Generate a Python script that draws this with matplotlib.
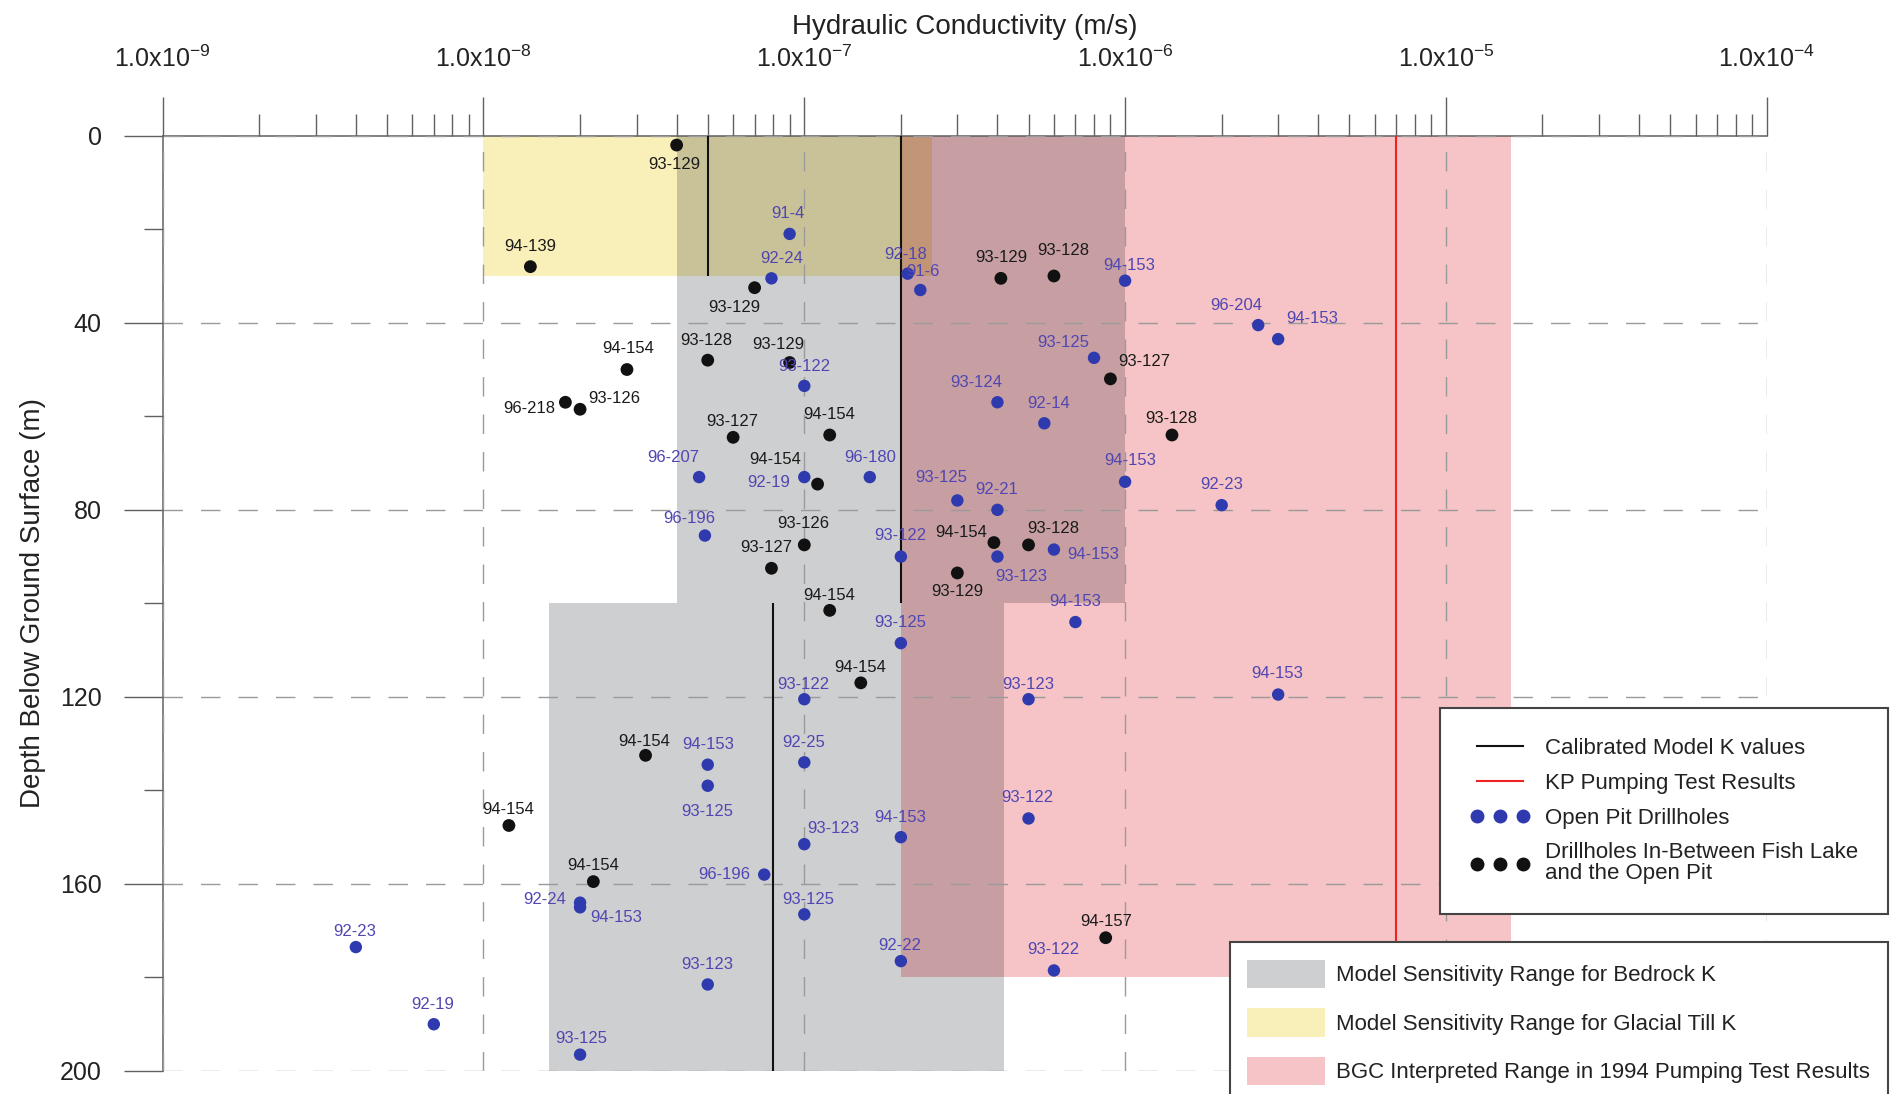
"""
Hydraulic conductivity vs depth - sensitivity ranges and drillhole K values
"""

import numpy as np
import matplotlib
matplotlib.use('Agg')
import matplotlib.pyplot as plt
from matplotlib.colors import to_rgb
from matplotlib.lines import Line2D
from matplotlib.patches import Patch
from matplotlib.ticker import FixedLocator, FuncFormatter, NullFormatter

plt.rcParams['font.family'] = ['Liberation Sans', 'DejaVu Sans']

# Drillholes In-Between Fish Lake and the Open Pit (black)
BLACK_NAMES = ['93-129', '94-139', '93-129', '93-128', '94-154', '93-129', '96-218',
               '93-126', '93-127', '94-154', '94-154', '93-126', '93-127', '94-154',
               '94-154', '94-154', '93-128', '93-129', '93-127', '93-128', '93-129',
               '93-128', '94-154', '94-154', '94-154', '94-157']
BLACK_K = [4.0e-8, 1.4e-8, 7.0e-8, 5.0e-8, 2.8e-8, 9.0e-8, 1.8e-8,
           2.0e-8, 6.0e-8, 1.2e-7, 1.1e-7, 1.0e-7, 7.9e-8, 1.2e-7,
           1.5e-7, 3.9e-7, 5.0e-7, 3.0e-7, 9.0e-7, 1.4e-6, 4.1e-7,
           6.0e-7, 3.2e-8, 1.2e-8, 2.2e-8, 8.7e-7]
BLACK_DEPTH = [2, 28, 32.5, 48, 50, 48.5, 57,
               58.5, 64.5, 64, 74.5, 87.5, 92.5, 101.5,
               117, 87, 87.5, 93.5, 52, 64, 30.5,
               30, 132.5, 147.5, 159.5, 171.5]

# Open Pit Drillholes (blue)
BLUE_NAMES = ['91-4', '92-24', '92-18', '91-6', '94-153', '96-204', '94-153', '93-125',
              '93-122', '93-124', '92-14', '96-207', '92-19', '96-180', '96-196', '93-122',
              '93-125', '92-21', '93-123', '94-153', '94-153', '92-23', '94-153', '93-125',
              '93-122', '93-123', '94-153', '94-153', '93-125', '92-25', '93-123', '94-153',
              '93-122', '96-196', '92-24', '94-153', '93-125', '92-22', '93-122', '93-123',
              '93-125', '92-23', '92-19']
BLUE_K = [9.0e-8, 7.9e-8, 2.1e-7, 2.3e-7, 1.0e-6, 2.6e-6, 3.0e-6, 8.0e-7,
          1.0e-7, 4.0e-7, 5.6e-7, 4.7e-8, 1.0e-7, 1.6e-7, 4.9e-8, 2.0e-7,
          3.0e-7, 4.0e-7, 4.0e-7, 6.0e-7, 1.0e-6, 2.0e-6, 7.0e-7, 2.0e-7,
          1.0e-7, 5.0e-7, 3.0e-6, 5.0e-8, 5.0e-8, 1.0e-7, 1.0e-7, 2.0e-7,
          5.0e-7, 7.5e-8, 2.0e-8, 2.0e-8, 1.0e-7, 2.0e-7, 6.0e-7, 5.0e-8,
          2.0e-8, 4.0e-9, 7.0e-9]
BLUE_DEPTH = [21, 30.5, 29.5, 33, 31, 40.5, 43.5, 47.5,
              53.5, 57, 61.5, 73, 73, 73, 85.5, 90,
              78, 80, 90, 88.5, 74, 79, 104, 108.5,
              120.5, 120.5, 119.5, 134.5, 139, 134, 151.5, 150,
              146, 158, 164, 165, 166.5, 176.5, 178.5, 181.5,
              196.5, 173.5, 190]

# label centre offsets from the dot, pixels (x right, y down)
BLACK_OFFSETS = [(-2, 19), (0, -20), (-20, 20), (-1, -20), (1, -21), (-11, -18), (-36, 6),
                 (34, -11), (-1, -16), (-1, -20), (-42, -25), (-1, -21), (-5, -21), (-1, -15),
                 (-1, -15), (-33, -10), (25, -16), (0, 19), (34, -17), (-1, -16), (0, -21),
                 (9, -25), (-1, -14), (-1, -16), (0, -16), (0, -16)]
BLUE_OFFSETS = [(-2, -20), (10, -20), (-2, -19), (3, -19), (4, -15), (-22, -20), (34, -21), (-31, -15),
                (0, -19), (-21, -20), (4, -20), (-26, -20), (-36, 5), (0, -20), (-16, -17), (-1, -21),
                (-16, -23), (-1, -20), (24, 20), (39, 5), (5, -21), (0, -21), (0, -21), (-1, -21),
                (-1, -15), (0, -15), (-1, -21), (0, -20), (0, 26), (-1, -20), (29, -16), (-1, -20),
                (-1, -21), (-40, 0), (-35, -3), (36, 10), (4, -15), (-1, -16), (-1, -21), (0, -20),
                (1, -16), (-1, -16), (-1, -20)]

# shaded K ranges (bedrock upper, bedrock lower, glacial till, BGC 1994)
RANGE_K = [(4.0e-8, 1.0e-6), (1.6e-8, 4.2e-7), (1.0e-8, 2.5e-7), (2.0e-7, 1.6e-5)]
RANGE_DEPTH = [(0, 100), (100, 200), (0, 30), (0, 180)]

# calibrated model K values
CAL_K = [5e-8, 2e-7, 8e-8]
CAL_DEPTH = [(0, 30), (0, 100), (100, 200)]

# KP pumping test result
KP_K = [7e-6]
KP_DEPTH = [(0, 180)]

DECADES = [1e-9, 1e-8, 1e-7, 1e-6, 1e-5, 1e-4]

GRAY = '#cecfd1'
YELLOW = '#f9efb9'
PINK = '#f6c4c6'
RANGE_COLORS = [GRAY, GRAY, YELLOW, PINK]
BLUE = '#2f3aae'
BLUE_TXT = '#5046b2'
AXIS_C = '#606060'


def draw_ranges(ax):
    # overlapping ranges are blended multiplicatively, cell by cell
    ks = sorted({k for r in RANGE_K for k in r})
    ds = sorted({d for r in RANGE_DEPTH for d in r})
    for k0, k1 in zip(ks[:-1], ks[1:]):
        for d0, d1 in zip(ds[:-1], ds[1:]):
            rgb = np.ones(3)
            hit = False
            for (ka, kb), (da, db), c in zip(RANGE_K, RANGE_DEPTH, RANGE_COLORS):
                if ka <= k0 and k1 <= kb and da <= d0 and d1 <= db:
                    rgb = rgb * np.array(to_rgb(c))
                    hit = True
            if hit:
                ax.fill_betweenx([d0, d1], k0, k1, color=rgb, lw=0,
                                 antialiased=False, zorder=1)


fig = plt.figure(figsize=(18.92, 10.94), dpi=100)
ax = fig.add_axes([162.7 / 1892, 1 - 1071 / 1094, (1766.7 - 162.7) / 1892, (1071 - 135.7) / 1094])

ax.set_xscale('log')
ax.set_xlim(1e-9, 1e-4)
ax.set_ylim(200, 0)

draw_ranges(ax)

for k, (d0, d1) in zip(CAL_K, CAL_DEPTH):
    ax.vlines(k, d0, d1, color='#111111', lw=1.5, zorder=3)
for k, (d0, d1) in zip(KP_K, KP_DEPTH):
    ax.vlines(k, d0, d1, color='#ee2222', lw=1.5, zorder=3)

ax.scatter(BLUE_K, BLUE_DEPTH, s=80, color=BLUE, edgecolors='none', zorder=4)
ax.scatter(BLACK_K, BLACK_DEPTH, s=85, color='#111111', edgecolors='none', zorder=4)

for name, k, d, (dx, dy) in zip(BLUE_NAMES, BLUE_K, BLUE_DEPTH, BLUE_OFFSETS):
    ax.annotate(name, (k, d), xytext=(dx, -dy), textcoords='offset pixels',
                ha='center', va='center', fontsize=12, color=BLUE_TXT, zorder=5)
for name, k, d, (dx, dy) in zip(BLACK_NAMES, BLACK_K, BLACK_DEPTH, BLACK_OFFSETS):
    ax.annotate(name, (k, d), xytext=(dx, -dy), textcoords='offset pixels',
                ha='center', va='center', fontsize=12, color='#1a1a1a', zorder=5)

# axes, ticks and grid
ax.set_axisbelow(False)
for side in ['right', 'bottom']:
    ax.spines[side].set_visible(False)
for side in ['left', 'top']:
    ax.spines[side].set_color(AXIS_C)
    ax.spines[side].set_linewidth(1.1)

ax.xaxis.tick_top()
ax.xaxis.set_label_position('top')
minor_k = [m * d for d in DECADES[:-1] for m in range(2, 10)]
ax.xaxis.set_major_locator(FixedLocator(DECADES))
ax.xaxis.set_minor_locator(FixedLocator(minor_k))
ax.xaxis.set_minor_formatter(NullFormatter())
ax.xaxis.set_major_formatter(FuncFormatter(
    lambda v, _: r'$\mathregular{1.0x10^{%d}}$' % round(np.log10(v))))
ax.tick_params(axis='x', which='major', direction='out', length=28, width=1,
               color=AXIS_C, pad=18, labelsize=18, labelcolor='#222222')
ax.tick_params(axis='x', which='minor', direction='out', length=16, width=1, color=AXIS_C)

ax.set_yticks(np.arange(0, 201, 40))
ax.set_yticks(np.arange(20, 200, 40), minor=True)
ax.tick_params(axis='y', which='major', direction='out', length=28, width=1,
               color=AXIS_C, pad=16, labelsize=18, labelcolor='#222222')
ax.tick_params(axis='y', which='minor', direction='out', length=14, width=1, color=AXIS_C)

ax.grid(True, which='major', color='#9a9a9a', lw=1, ls=(0, (14, 13)))

ax.set_xlabel('Hydraulic Conductivity (m/s)', fontsize=20, color='#222222', labelpad=8)
ax.set_ylabel('Depth Below Ground Surface (m)', fontsize=20, color='#222222', labelpad=10)

# legends
line_handles = [
    Line2D([], [], color='#111111', lw=1.5),
    Line2D([], [], color='#ee2222', lw=1.5),
    Line2D([], [], ls='none', marker='o', ms=9, color=BLUE),
    Line2D([], [], ls='none', marker='o', ms=9, color='#111111'),
]
line_labels = ['Calibrated Model K values', 'KP Pumping Test Results', 'Open Pit Drillholes',
               'Drillholes In-Between Fish Lake\nand the Open Pit']
leg1 = fig.legend(line_handles, line_labels, loc='upper right',
                  bbox_to_anchor=(1888 / 1892, 1 - 708 / 1094), borderaxespad=0,
                  fontsize=16, numpoints=3, handlelength=2.65, handletextpad=0.7,
                  borderpad=1.35, labelspacing=0.62, fancybox=False, framealpha=1,
                  edgecolor='#444444')
leg1.get_frame().set_linewidth(1.5)
for t in leg1.get_texts():
    t.set_linespacing(1.0)
    t.set_color('#222222')

patch_handles = [Patch(facecolor=GRAY, edgecolor='none'),
                 Patch(facecolor=YELLOW, edgecolor='none'),
                 Patch(facecolor=PINK, edgecolor='none')]
patch_labels = ['Model Sensitivity Range for Bedrock K',
                'Model Sensitivity Range for Glacial Till K',
                'BGC Interpreted Range in 1994 Pumping Test Results']
leg2 = fig.legend(patch_handles, patch_labels, loc='upper right',
                  bbox_to_anchor=(1888 / 1892, 1 - 942 / 1094), borderaxespad=0,
                  fontsize=16, handlelength=3.5, handleheight=1.6, handletextpad=0.5,
                  borderpad=0.8, labelspacing=0.9, fancybox=False, framealpha=1,
                  edgecolor='#444444')
leg2.get_frame().set_linewidth(1.5)
for t in leg2.get_texts():
    t.set_color('#222222')

fig.savefig('out.png', dpi=100)
